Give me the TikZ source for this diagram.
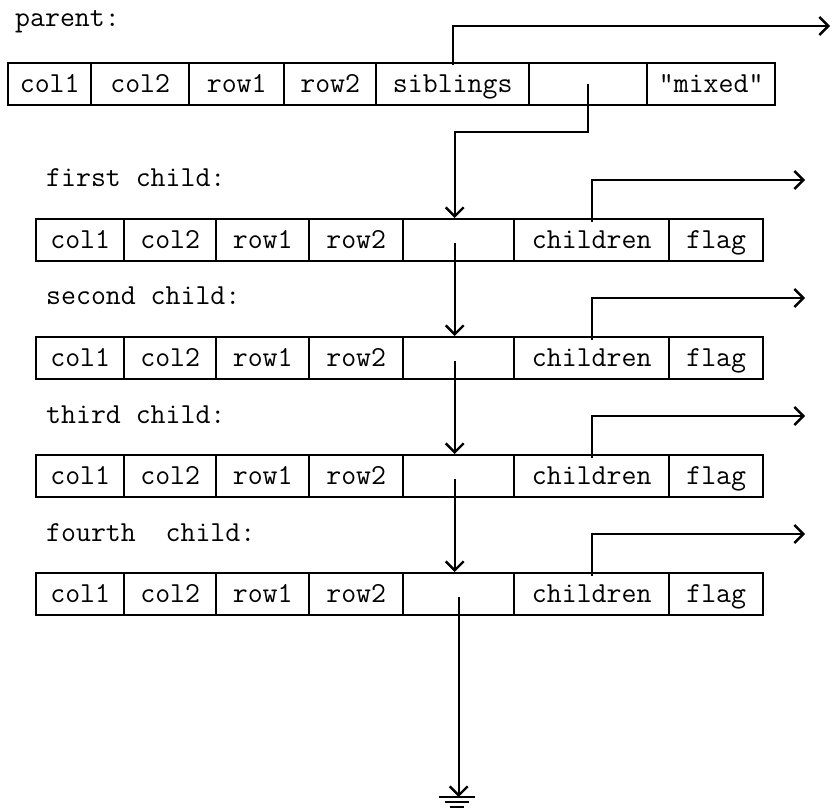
\documentclass[tikz,border=0pt]{standalone}
\usepackage{fontspec}
\usetikzlibrary{arrows.meta,calc}
\begin{document}
\begin{tikzpicture}[x=1pt,y=-1pt,
  cell/.style={draw, line width=2.4pt, inner sep=0pt, minimum height=42pt,
    text height=16pt, text depth=0pt, anchor=north west,
    font=\fontsize{29}{31}\selectfont\ttfamily},
  lbl/.style={anchor=base west, inner sep=0pt, font=\fontsize{29}{31}\selectfont\ttfamily},
  link/.style={line width=2.4pt, -{Straight Barb[length=9pt,width=18pt,line width=2.4pt]}},
  wire/.style={line width=2.4pt}]
\useasboundingbox (0,0) rectangle (833,810);
% parent
\node[lbl] (lp) at (15,27) {parent:};
\foreach \x/\w/\t [count=\i] in {7/83/col1, 90/98/col2, 188/95/row1, 283/92/row2,
    375/153/siblings, 528/118/{}, 646/128/{"mixed"}}
  \node[cell, minimum width=\w] (p-\i) at (\x,62) {\t};
% children
\foreach \r/\top/\name in {1/218/{first child:}, 2/336/{second child:},
    3/454/{third child:}, 4/572/{fourth\ \ child:}} {
  \node[lbl] (l\r) at (46,\top-31) {\name};
  \foreach \x/\w/\t [count=\i] in {35/88/col1, 123/92/col2, 215/93/row1, 308/94/row2,
      402/111/{}, 513/155/children, 668/94/flag}
    \node[cell, minimum width=\w] (r\r-\i) at (\x,\top) {\t};
  \coordinate (co\r) at (805,\top-38);
  \draw[link] ([yshift=-4pt]r\r-6.north) |- (co\r);
}
% parent links
\coordinate (sibout) at (830,26);
\draw[link] ([yshift=-3pt]p-5.north) |- (sibout);
\draw[link] (p-6.center) -- (p-6.center |- 0,132) -| ([xshift=-4pt]r1-5.north);
% sibling chain
\foreach \r/\n in {1/2, 2/3, 3/4}
  \draw[link] ([xshift=-4pt,yshift=-3pt]r\r-5.center) -- ([xshift=-4pt]r\n-5.north);
% end of list
\coordinate (gnd) at (457,797);
\draw[link] ([yshift=-3pt]r4-5.center) -- (r4-5.center |- gnd);
\draw[wire] ([xshift=-18pt]gnd) -- ([xshift=18pt]gnd);
\draw[wire] ([xshift=-12pt,yshift=-5pt]gnd) -- ([xshift=12pt,yshift=-5pt]gnd);
\draw[wire] ([xshift=-7pt,yshift=-10pt]gnd) -- ([xshift=7pt,yshift=-10pt]gnd);
\end{tikzpicture}
\end{document}
